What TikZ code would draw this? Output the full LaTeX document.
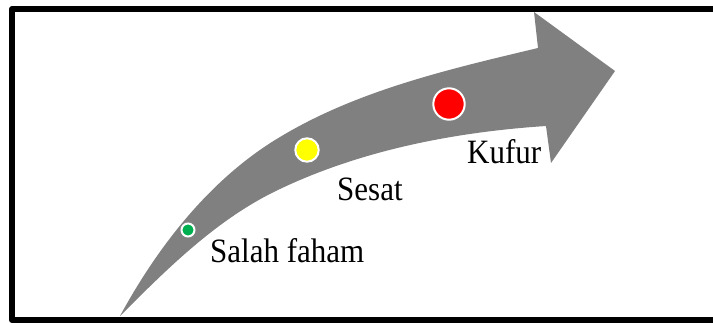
\documentclass[tikz,border=0pt]{standalone}
\usepackage{fontspec}
\usepackage{graphicx}
\setmainfont{Liberation Serif}
\definecolor{arrowgray}{RGB}{128,128,128}
\definecolor{dotgreen}{RGB}{0,176,80}
\definecolor{dotyellow}{RGB}{255,255,0}
\definecolor{dotred}{RGB}{255,0,0}
\newcommand{\talltext}[1]{\scalebox{1}[1.1]{#1}}
\tikzset{
  dot/.style={circle, draw=white, line width=2pt, inner sep=0pt},
  lbl/.style={anchor=base west, inner sep=0pt, font=\fontsize{31}{37}\selectfont},
  frame/.style={draw=black, line width=6pt, line join=round}
}
\begin{document}
\begin{tikzpicture}[x=1pt,y=-1pt]
\useasboundingbox (0,0) rectangle (713,322);
\fill[white] (0,0) rectangle (713,322);
\draw[frame] (730,9) -- (12,9) -- (12,320) -- (730,320);
\fill[arrowgray]
  (120,316) .. controls (158,246) and (211,178) .. (280,137)
  .. controls (358,90) and (450,69) .. (538,48)
  -- (534,12) -- (615,71) -- (551,163) -- (546,126)
  .. controls (455,132) and (362,150) .. (280,189)
  .. controls (218,218) and (168,268) .. (120,316)
  -- cycle;
\node[dot, fill=dotgreen, minimum size=13pt] (g) at (188,230) {};
\node[dot, fill=dotyellow, minimum size=23.4pt] (y) at (307,150) {};
\node[dot, fill=dotred, minimum size=31.4pt] (r) at (449,104) {};
\node[lbl] (t1) at (210,262) {\talltext{Salah faham}};
\node[lbl] (t2) at (337,200) {\talltext{Sesat}};
\node[lbl] (t3) at (467,163) {\talltext{Kufur}};
\end{tikzpicture}
\end{document}
